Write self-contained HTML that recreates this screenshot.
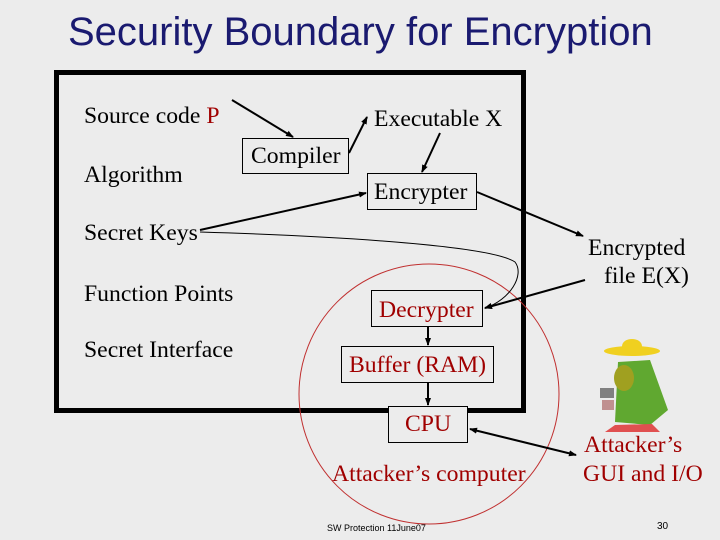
<!DOCTYPE html>
<html><head><style>
body{margin:0;width:720px;height:540px;background:#ececec;overflow:hidden;position:relative;font-family:"Liberation Serif",serif;}
.t{position:absolute;white-space:nowrap;font-size:23.7px;line-height:26px;color:#000;}
.r{color:#a00000;}
.b{position:absolute;border:1px solid #000;box-sizing:border-box;}
</style></head><body>
<div class="t" style="left:68px;top:10px;font-family:'Liberation Sans',sans-serif;font-size:40px;line-height:44px;color:#1a1a70;">Security Boundary for Encryption</div>
<div style="position:absolute;left:54px;top:70px;width:472px;height:343px;border:5px solid #000;box-sizing:border-box;"></div>
<svg width="720" height="540" style="position:absolute;left:0;top:0">
<defs><marker id="a" markerWidth="8" markerHeight="8" refX="7" refY="4" orient="auto" markerUnits="userSpaceOnUse"><path d="M0,1 L8,4 L0,7z" fill="#000"/></marker>
<marker id="s" markerWidth="8" markerHeight="8" refX="1" refY="4" orient="auto" markerUnits="userSpaceOnUse"><path d="M8,1 L0,4 L8,7z" fill="#000"/></marker></defs>
<circle cx="429" cy="394" r="130" fill="none" stroke="#c03030" stroke-width="1"/>
<g stroke="#000" stroke-width="2" fill="none" marker-end="url(#a)">
<line x1="232" y1="100" x2="293" y2="137"/>
<line x1="349" y1="153" x2="367" y2="117"/>
<line x1="440" y1="133" x2="422" y2="172"/>
<line x1="200" y1="230" x2="366" y2="193"/>
<line x1="477" y1="192" x2="583" y2="236"/>
<line x1="585" y1="280" x2="485" y2="308"/>
<line x1="428" y1="327" x2="428" y2="345"/>
<line x1="428" y1="383" x2="428" y2="405"/>
<line x1="470" y1="429" x2="576" y2="455" marker-start="url(#s)"/>
</g>
<path d="M200,232 C330,236 490,245 515,262 C525,275 510,300 485,308" stroke="#000" stroke-width="1" fill="none" marker-end="url(#a)"/>
<g>
<ellipse cx="632" cy="351" rx="28" ry="5" fill="#f0d020"/>
<ellipse cx="632" cy="346" rx="10" ry="7" fill="#f0d020"/>
<path d="M618,362 L650,360 L668,410 L650,425 L615,422 Z" fill="#60a830"/>
<ellipse cx="624" cy="378" rx="10" ry="13" fill="#a0a020"/>
<rect x="600" y="388" width="14" height="10" fill="#808080"/>
<rect x="602" y="400" width="12" height="10" fill="#c09090"/>
<path d="M615,425 L605,432 L660,432 L652,424Z" fill="#e05050"/>
</g>
</svg>
<div class="t" style="left:84px;top:103px;">Source code <span class="r">P</span></div>
<div class="t" style="left:84px;top:162px;">Algorithm</div>
<div class="t" style="left:84px;top:220px;">Secret Keys</div>
<div class="t" style="left:84px;top:281px;">Function Points</div>
<div class="t" style="left:84px;top:337px;">Secret Interface</div>
<div class="t" style="left:374px;top:106px;">Executable X</div>
<div class="b" style="left:242px;top:138px;width:107px;height:36px;"></div>
<div class="t" style="left:251px;top:143px;">Compiler</div>
<div class="b" style="left:367px;top:173px;width:110px;height:37px;"></div>
<div class="t" style="left:374px;top:179px;">Encrypter</div>
<div class="t" style="left:588px;top:235px;">Encrypted</div>
<div class="t" style="left:604px;top:263px;">file E(X)</div>
<div class="b" style="left:371px;top:290px;width:112px;height:37px;"></div>
<div class="t r" style="left:379px;top:297px;">Decrypter</div>
<div class="b" style="left:341px;top:346px;width:153px;height:37px;"></div>
<div class="t r" style="left:349px;top:352px;">Buffer (RAM)</div>
<div class="b" style="left:388px;top:406px;width:80px;height:37px;background:#ececec;"></div>
<div class="t r" style="left:405px;top:411px;">CPU</div>
<div class="t r" style="left:332px;top:461px;">Attacker’s computer</div>
<div class="t r" style="left:584px;top:432px;">Attacker’s</div>
<div class="t r" style="left:583px;top:461px;">GUI and I/O</div>
<div class="t" style="left:327px;top:523px;font-family:'Liberation Sans',sans-serif;font-size:9px;line-height:11px;">SW Protection 11June07</div>
<div class="t" style="left:657px;top:521px;font-family:'Liberation Sans',sans-serif;font-size:10px;line-height:12px;">30</div>
</body></html>
